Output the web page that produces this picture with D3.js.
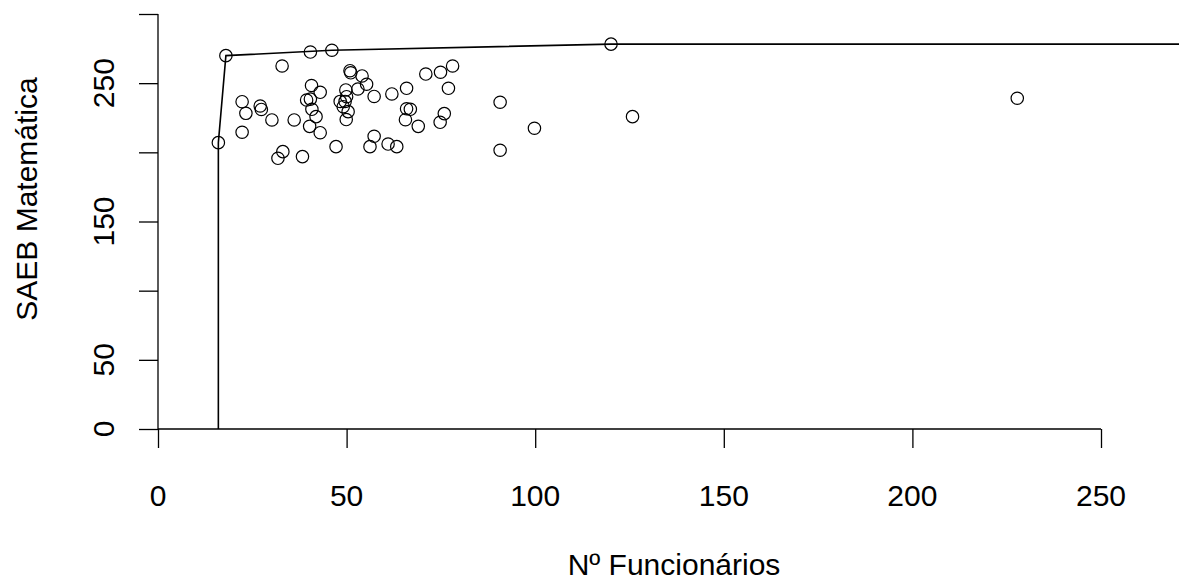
<!DOCTYPE html>
<html>
<head>
    <meta charset="UTF-8">
    <script src="https://cdn.jsdelivr.net/npm/d3@7"></script>
    <title>SAEB x Funcionarios</title>
    <style>
        body { margin: 0; background: #fff; }
        text { font-family: 'Liberation Sans', Arial, sans-serif; fill: #000; }
        .frame line, .frame path { stroke: #000; stroke-width: 1.3px; fill: none; }
    </style>
</head>
<body>
    <div class="figure"></div>
    <script>
// data
        const funcionarios = [16.0, 18.0, 32.9, 40.4, 46.1,
            50.9, 51.1, 54.1, 55.3, 53.0, 57.3, 62.0, 65.9, 71.0, 74.9, 78.1, 77.0,
            90.7, 99.8, 90.7, 120.1, 125.8, 227.8,
            40.7, 43.0, 39.4, 40.4, 40.8, 41.9, 40.2, 43.0,
            22.3, 23.3, 27.1, 27.4, 30.2, 36.1, 22.3,
            33.1, 31.8, 38.3, 47.2, 57.3, 56.2, 61.0, 63.3,
            49.8, 49.6, 48.3, 50.0, 49.1, 50.4, 49.9,
            65.9, 66.9, 65.6, 69.0, 75.9, 74.8];
        const saebMat = [207.0, 269.9, 262.4, 272.5, 273.8,
            259.0, 257.5, 255.2, 249.2, 245.8, 240.4, 242.2, 246.3, 256.6, 257.9, 262.4, 246.3,
            236.2, 217.4, 201.5, 278.2, 225.8, 239.1,
            248.3, 243.4, 237.8, 238.5, 231.1, 225.8, 218.8, 214.2,
            236.6, 228.2, 233.5, 231.0, 223.4, 223.4, 214.5,
            200.5, 195.7, 196.9, 204.1, 211.6, 204.1, 206.0, 204.1,
            245.1, 236.8, 236.8, 240.2, 233.0, 229.4, 223.7,
            231.5, 231.1, 223.6, 218.8, 228.0, 221.7];
        // frontier
        const frontX = [16, 16, 18.0, 46.1, 120.1, 280];
        const frontY = [0, 207.0, 269.9, 273.8, 278.2, 278.2];

        const xTicks = [0, 50, 100, 150, 200, 250];
        const yTicks = [0, 50, 100, 150, 200, 250, 300];
        const yTickLabels = ["0", "50", "", "150", "", "250", ""];

        const width = 1179, height = 580;
        const svg = d3.select(".figure").append("svg")
            .attr("width", width)
            .attr("height", height);

        const x = d3.scaleLinear().domain([0, 250]).range([158, 1101]);
        const y = d3.scaleLinear().domain([0, 300]).range([429, 14]);

        // axes
        const xAxis = svg.append("g").attr("class", "frame")
            .attr("transform", `translate(0,${y(0)})`)
            .call(d3.axisBottom(x).tickValues(xTicks).tickSize(19).tickPadding(0).tickFormat(""));
        xAxis.select(".domain").attr("d", `M${x(0)},0H${x(250)}`);

        const yAxis = svg.append("g").attr("class", "frame")
            .attr("transform", `translate(${x(0)},0)`)
            .call(d3.axisLeft(y).tickValues(yTicks).tickSize(19).tickFormat(""));
        yAxis.select(".domain").attr("d", `M0,${y(0)}V${y(300)}`);

        svg.append("g").selectAll("text")
            .data(xTicks)
            .enter()
            .append("text")
            .attr("x", d => x(d))
            .attr("y", 506)
            .attr("text-anchor", "middle")
            .style("font-size", "30px")
            .text(d => d);

        svg.append("g").selectAll("text")
            .data(yTicks)
            .enter()
            .append("text")
            .attr("transform", d => `translate(114,${y(d)}) rotate(-90)`)
            .attr("text-anchor", "middle")
            .style("font-size", "30px")
            .text((d, i) => yTickLabels[i]);

        svg.append("text")
            .attr("x", 674)
            .attr("y", 575)
            .attr("text-anchor", "middle")
            .style("font-size", "30px")
            .text("Nº Funcionários");

        svg.append("text")
            .attr("transform", "translate(37,199) rotate(-90)")
            .attr("text-anchor", "middle")
            .style("font-size", "30px")
            .text("SAEB Matemática");

        // frontier line
        const line = d3.line()
            .x(d => x(frontX[d]))
            .y(d => y(frontY[d]));
        svg.append("path")
            .attr("d", line(d3.range(frontX.length)))
            .attr("fill", "none")
            .attr("stroke", "#000")
            .attr("stroke-width", 1.6);

        // points
        svg.append("g").selectAll("circle")
            .data(d3.range(funcionarios.length))
            .enter()
            .append("circle")
            .attr("cx", i => x(funcionarios[i]))
            .attr("cy", i => y(saebMat[i]))
            .attr("r", 6.2)
            .attr("fill", "none")
            .attr("stroke", "#000")
            .attr("stroke-width", 1.2);
    </script>
</body>
</html>
